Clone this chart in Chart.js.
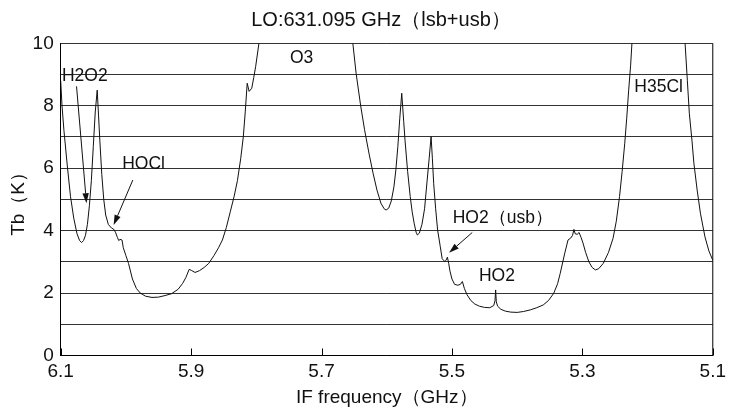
<!DOCTYPE html>
<html>
<head>
<meta charset="utf-8">
<title>LO:631.095 GHz</title>
<script src="https://cdn.jsdelivr.net/npm/chart.js@4/dist/chart.umd.min.js"></script>
<style>
  html, body { margin: 0; padding: 0; background: #fff; }
  #wrap { width: 731px; height: 410px; }
</style>
</head>
<body>
<div id="wrap"><canvas id="chart" width="731" height="410"></canvas></div>
<script>
'use strict';

const freq = [
  6.100, 6.098, 6.095, 6.090, 6.085, 6.080, 6.075, 6.071, 6.068, 6.065,
  6.062, 6.059, 6.056, 6.053, 6.050, 6.047, 6.044, 6.042, 6.040, 6.037,
  6.034, 6.031, 6.027, 6.022, 6.019, 6.016, 6.013, 6.011, 6.009, 6.006,
  6.004, 6.000, 5.996, 5.990, 5.984, 5.978, 5.970, 5.960, 5.950, 5.940,
  5.930, 5.920, 5.913, 5.908, 5.903, 5.899, 5.894, 5.887, 5.880, 5.873,
  5.865, 5.858, 5.852, 5.846, 5.840, 5.834, 5.829, 5.824, 5.820, 5.817,
  5.814, 5.811, 5.807, 5.804, 5.801, 5.796, 5.790, 5.780, 5.750, 5.700,
  5.670, 5.656, 5.652, 5.647, 5.640, 5.634, 5.627, 5.621, 5.615, 5.609,
  5.604, 5.601, 5.597, 5.593, 5.589, 5.586, 5.583, 5.580, 5.577, 5.574,
  5.572, 5.568, 5.564, 5.561, 5.558, 5.555, 5.553, 5.550, 5.546, 5.542,
  5.538, 5.535, 5.532, 5.530, 5.528, 5.525, 5.522, 5.518, 5.515, 5.511,
  5.509, 5.507, 5.505, 5.503, 5.500, 5.496, 5.491, 5.487, 5.484, 5.481,
  5.477, 5.471, 5.465, 5.458, 5.450, 5.442, 5.436, 5.434, 5.433, 5.432,
  5.430, 5.425, 5.418, 5.410, 5.400, 5.390, 5.380, 5.370, 5.360, 5.352,
  5.344, 5.338, 5.334, 5.330, 5.327, 5.322, 5.318, 5.315, 5.313, 5.311,
  5.308, 5.305, 5.302, 5.299, 5.295, 5.290, 5.285, 5.280, 5.275, 5.268,
  5.260, 5.253, 5.248, 5.243, 5.239, 5.235, 5.232, 5.229, 5.226, 5.224,
  5.218, 5.200, 5.160, 5.146, 5.1425, 5.139, 5.136, 5.132, 5.129, 5.124,
  5.119, 5.112, 5.106, 5.100
];

// brightness temperature Tb (K); values above 10 run off the top of the plot
const tb = [
  8.8, 8.0, 7.2, 6.1, 5.1, 4.4, 3.9, 3.68, 3.62, 3.68,
  3.85, 4.2, 4.8, 5.6, 6.7, 7.8, 8.5, 7.7, 6.9, 5.8,
  5.0, 4.5, 4.2, 4.08, 4.05, 3.95, 3.78, 3.68, 3.72, 3.70,
  3.45, 3.2, 2.95, 2.45, 2.15, 2.0, 1.9, 1.86, 1.87, 1.92,
  1.98, 2.12, 2.31, 2.5, 2.76, 2.72, 2.66, 2.72, 2.82, 2.95,
  3.2, 3.45, 3.7, 4.1, 4.6, 5.1, 5.6, 6.3, 7.0, 7.8,
  8.72, 8.46, 8.56, 8.9, 9.26, 10.0, 10.9, 12.5, 15, 15,
  12, 10.4, 10.0, 9.04, 8.0, 7.23, 6.45, 5.84, 5.3, 4.88,
  4.7, 4.66, 4.72, 4.95, 5.4, 5.95, 6.69, 7.6, 8.4, 7.5,
  6.9, 5.9, 5.09, 4.6, 4.24, 3.95, 3.86, 3.92, 4.2, 4.7,
  5.62, 6.3, 7.01, 6.3, 5.5, 4.7, 4.02, 3.5, 3.1, 3.01,
  3.05, 3.15, 2.95, 2.7, 2.45, 2.28, 2.25, 2.28, 2.37, 2.15,
  1.95, 1.76, 1.65, 1.58, 1.54, 1.53, 1.6, 1.75, 2.1, 1.72,
  1.58, 1.48, 1.42, 1.39, 1.38, 1.41, 1.46, 1.53, 1.62, 1.76,
  1.99, 2.3, 2.63, 3.0, 3.28, 3.7, 3.76, 3.85, 4.04, 3.9,
  3.88, 3.94, 3.78, 3.6, 3.3, 3.0, 2.82, 2.74, 2.78, 2.95,
  3.3, 3.75, 4.3, 5.09, 5.9, 6.8, 7.6, 8.5, 9.3, 10.0,
  11, 13, 13, 10.8, 10.0, 8.8, 7.76, 6.9, 6.16, 5.3,
  4.56, 3.8, 3.35, 3.05
];

const xTicks = [6.1, 5.9, 5.7, 5.5, 5.3, 5.1];
const yLabels = [0, 2, 4, 6, 8, 10];

// line labels and arrows, in data coordinates
const notes = [
  { text: 'H2O2', x: 6.063, y: 8.96 },
  { text: 'HOCl', x: 5.973, y: 6.14 },
  { text: 'O3', x: 5.7305, y: 9.53 },
  { text: 'HO2（usb）', x: 5.422, y: 4.40 },
  { text: 'HO2', x: 5.431, y: 2.53 },
  { text: 'H35Cl', x: 5.183, y: 8.59 }
];
const arrows = [
  { from: [6.0757, 8.62], to: [6.0605, 4.88] },
  { from: [5.9894, 5.62], to: [6.0188, 4.18] },
  { from: [5.4689, 3.94], to: [5.5044, 3.29] }
];

const FONT = 'Arial, "Liberation Sans", Helvetica, sans-serif';

// draws frame, inward x ticks, title, labels and arrows
const extras = {
  id: 'extras',
  afterDraw(chart) {
    const ctx = chart.ctx;
    const a = chart.chartArea;
    const xs = chart.scales.x, ys = chart.scales.y;
    ctx.save();

    ctx.strokeStyle = '#000';
    ctx.lineWidth = 1;
    ctx.beginPath();
    ctx.moveTo(a.right, a.top);
    ctx.lineTo(a.right, a.bottom);
    ctx.stroke();

    // small tick marks pointing up into the plot
    ctx.beginPath();
    xTicks.forEach(v => {
      const px = Math.round(xs.getPixelForValue(v)) + 0.5;
      ctx.moveTo(px, a.bottom);
      ctx.lineTo(px, a.bottom - 7);
    });
    ctx.stroke();

    ctx.fillStyle = '#111';
    ctx.textAlign = 'center';
    ctx.textBaseline = 'middle';
    ctx.font = '20px ' + FONT;
    ctx.fillText('LO:631.095 GHz（lsb+usb）', 381, 20);

    ctx.font = '17.5px ' + FONT;
    notes.forEach(n => {
      ctx.fillText(n.text, xs.getPixelForValue(n.x), ys.getPixelForValue(n.y));
    });

    arrows.forEach(ar => {
      const x0 = xs.getPixelForValue(ar.from[0]), y0 = ys.getPixelForValue(ar.from[1]);
      const x1 = xs.getPixelForValue(ar.to[0]), y1 = ys.getPixelForValue(ar.to[1]);
      const ang = Math.atan2(y1 - y0, x1 - x0);
      const len = 10, half = 3.2;
      const bx = x1 - len * Math.cos(ang), by = y1 - len * Math.sin(ang);
      ctx.strokeStyle = '#111';
      ctx.beginPath();
      ctx.moveTo(x0, y0);
      ctx.lineTo(bx, by);
      ctx.stroke();
      ctx.beginPath();
      ctx.moveTo(x1, y1);
      ctx.lineTo(bx + half * Math.sin(ang), by - half * Math.cos(ang));
      ctx.lineTo(bx - half * Math.sin(ang), by + half * Math.cos(ang));
      ctx.closePath();
      ctx.fill();
    });

    ctx.restore();
  }
};

const ctx = document.getElementById('chart').getContext('2d');
new Chart(ctx, {
  type: 'line',
  data: {
    datasets: [{
      data: freq.map((f, i) => ({ x: f, y: tb[i] })),
      borderColor: '#111',
      borderWidth: 1,
      pointRadius: 0,
      tension: 0,
      fill: false
    }]
  },
  options: {
    responsive: false,
    animation: false,
    devicePixelRatio: 1,
    layout: { padding: { top: 43.3, right: 15, left: 0, bottom: 0 } },
    plugins: {
      legend: { display: false },
      tooltip: { enabled: false }
    },
    scales: {
      x: {
        type: 'linear',
        reverse: true,
        min: 5.1,
        max: 6.1,
        afterBuildTicks: s => { s.ticks = xTicks.map(v => ({ value: v })); },
        afterFit: s => { s.height = 54.5; },
        grid: { display: false, drawTicks: false },
        border: { display: true, color: '#000', width: 1 },
        ticks: {
          autoSkip: false,
          maxRotation: 0,
          padding: 5,
          color: '#111',
          font: { family: FONT, size: 19 },
          callback: v => Number(v).toFixed(1)
        },
        title: {
          display: true,
          text: 'IF frequency（GHz）',
          color: '#111',
          font: { family: FONT, size: 19 },
          padding: { top: 0, bottom: 1 }
        }
      },
      y: {
        min: 0,
        max: 10,
        afterFit: s => { s.width = 60.7; },
        grid: { color: '#333', lineWidth: 1, drawTicks: false },
        border: { display: true, color: '#000', width: 1 },
        ticks: {
          stepSize: 1,
          padding: 7,
          color: '#111',
          font: { family: FONT, size: 19 },
          callback: v => (yLabels.includes(v) ? String(v) : '')
        },
        title: {
          display: true,
          text: 'Tb（K）',
          color: '#111',
          font: { family: FONT, size: 19 },
          padding: { top: 7, bottom: 0 }
        }
      }
    }
  },
  plugins: [extras]
});
</script>
</body>
</html>
